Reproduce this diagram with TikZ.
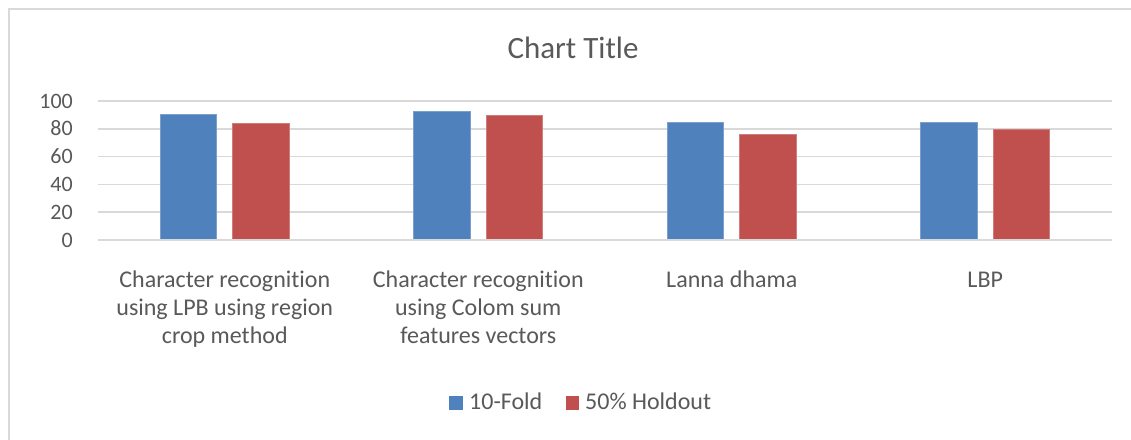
\documentclass[tikz,border=0pt]{standalone}
\usepackage{fontspec}
\setmainfont{Carlito}[Ligatures={NoCommon}]
\definecolor{txt}{HTML}{595959}
\definecolor{gridc}{HTML}{D9D9D9}
\definecolor{sblue}{HTML}{4F81BD}
\definecolor{sred}{HTML}{C0504D}
\tikzset{
  gridline/.style={draw=gridc, line width=1.5pt},
  framel/.style={draw=gridc, line width=2pt},
  bluebar/.style={fill=sblue, draw=sblue!75!white, line width=0.7pt},
  redbar/.style={fill=sred, draw=sred!75!white, line width=0.7pt},
  ticklab/.style={text=txt, inner sep=0pt, anchor=base east, font=\fontsize{22}{26}\selectfont},
  catlab/.style={text=txt, inner sep=0pt, anchor=base, align=center, font=\fontsize{24}{28}\selectfont},
  titlelab/.style={text=txt, inner sep=0pt, anchor=base, font=\fontsize{31}{36}\selectfont},
  leglab/.style={text=txt, inner sep=0pt, anchor=base west, font=\fontsize{24}{28}\selectfont},
}
\begin{document}
\begin{tikzpicture}[x=1pt,y=-1pt]
\useasboundingbox (0,0) rectangle (1131,439);
\fill[white] (0,0) rectangle (1131,439);
% chart frame (clipped at right and bottom)
\draw[framel] (9,445) -- (9,9) -- (1140,9);
% title
\node[titlelab] (title) at (573,58) {Chart Title};
% gridlines and tick labels
\foreach \v in {0,20,40,60,80,100}{
  \pgfmathsetmacro{\yy}{240-1.39*\v}
  \draw[gridline] (98,\yy) -- (1112,\yy);
  \node[ticklab] (tick\v) at (73,\yy+7) {\v};
}
% bars: group centres 224.75, 478.25, 731.75, 985.25
\foreach \c/\b/\r in {224.75/90.6/84, 478.25/92.8/90, 731.75/84.7/76, 985.25/84.9/79.9}{
  \fill[bluebar] (\c-64.5,240) rectangle (\c-8,240-1.39*\b);
  \fill[redbar] (\c+8,240) rectangle (\c+64.5,240-1.39*\r);
}
\draw[gridline] (98,240) -- (1112,240);
% category labels (base anchor = baseline of last line)
\node[catlab] (cat1) at (224.75,343) {Character recognition\\using LPB using region\\crop method};
\node[catlab] (cat2) at (478.25,343) {Character recognition\\using Colom sum\\features vectors};
\node[catlab] (cat3) at (731.75,287) {Lanna dhama};
\node[catlab] (cat4) at (985.25,287) {LBP};
% legend
\fill[sblue] (449,396) rectangle (462.5,410);
\node[leglab] (leg1) at (469,409) {10-Fold};
\fill[sred] (565.5,396) rectangle (579,410);
\node[leglab] (leg2) at (585,409) {50\% Holdout};
\end{tikzpicture}
\end{document}
